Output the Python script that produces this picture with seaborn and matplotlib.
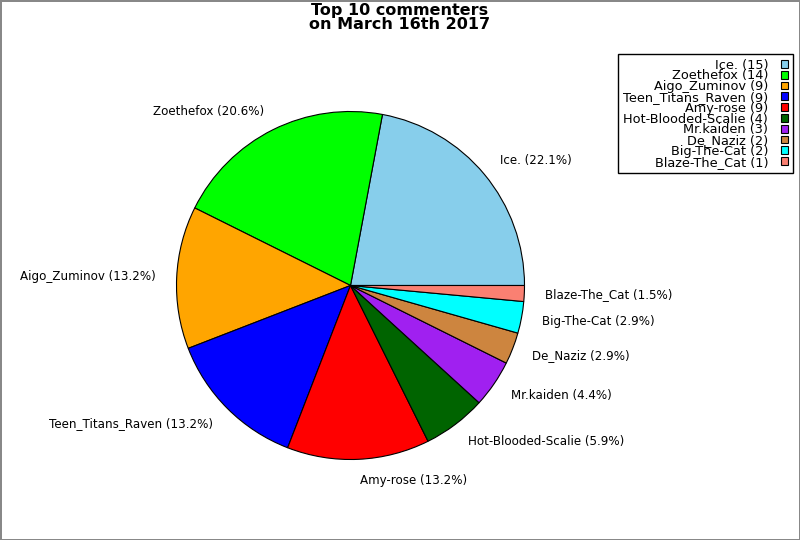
import matplotlib
matplotlib.use("Agg")
import matplotlib.pyplot as plt
import seaborn as sns

# --------------------------------------------------
# Data
# --------------------------------------------------
names = ["Ice.", "Zoethefox", "Aigo_Zuminov", "Teen_Titans_Raven", "Amy-rose",
         "Hot-Blooded-Scalie", "Mr.kaiden", "De_Naziz", "Big-The-Cat", "Blaze-The_Cat"]
counts = [15, 14, 9, 9, 9, 4, 3, 2, 2, 1]
colors = ["#87ceeb", "#00ff00", "#ffa500", "#0000ff", "#ff0000",
          "#006400", "#a020f0", "#cd853f", "#00ffff", "#fa8072"]

sns.set_style("white")
plt.rcParams["font.family"] = ["DejaVu Sans"]
plt.rcParams["text.color"] = "black"

total = sum(counts)
pie_labels = [f"{n} ({c / total * 100:.1f}%)" for n, c in zip(names, counts)]
legend_labels = [f"{n} ({c})" for n, c in zip(names, counts)]

fig = plt.figure(figsize=(8, 5.4), dpi=100)
fig.patch.set_edgecolor("#888888")
fig.patch.set_linewidth(2)

ax = fig.add_axes([0.16625, 0.0685, 0.54375, 0.8056])
wedges, texts = ax.pie(counts, labels=pie_labels, colors=colors, startangle=0,
                       labeldistance=1.12,
                       wedgeprops={"edgecolor": "black", "linewidth": 0.8},
                       textprops={"fontsize": 8.6, "color": "black"})
ax.set_aspect("equal")

fig.suptitle("Top 10 commenters\non March 16th 2017", fontsize=11.5,
             fontweight="bold", y=0.995, linespacing=0.9, color="black")

leg = fig.legend(wedges, legend_labels, loc="upper right",
                 bbox_to_anchor=(0.991, 0.9), fontsize=9.3,
                 markerfirst=False, alignment="right", labelspacing=-0.17,
                 handlelength=0.55, handleheight=0.55, handletextpad=1.0,
                 borderpad=0.35, borderaxespad=0.0, fancybox=False, framealpha=1)
leg.get_frame().set_edgecolor("black")
for t in leg.get_texts():
    t.set_ha("right")

fig.savefig("out.png", dpi=100, edgecolor=fig.get_edgecolor())
